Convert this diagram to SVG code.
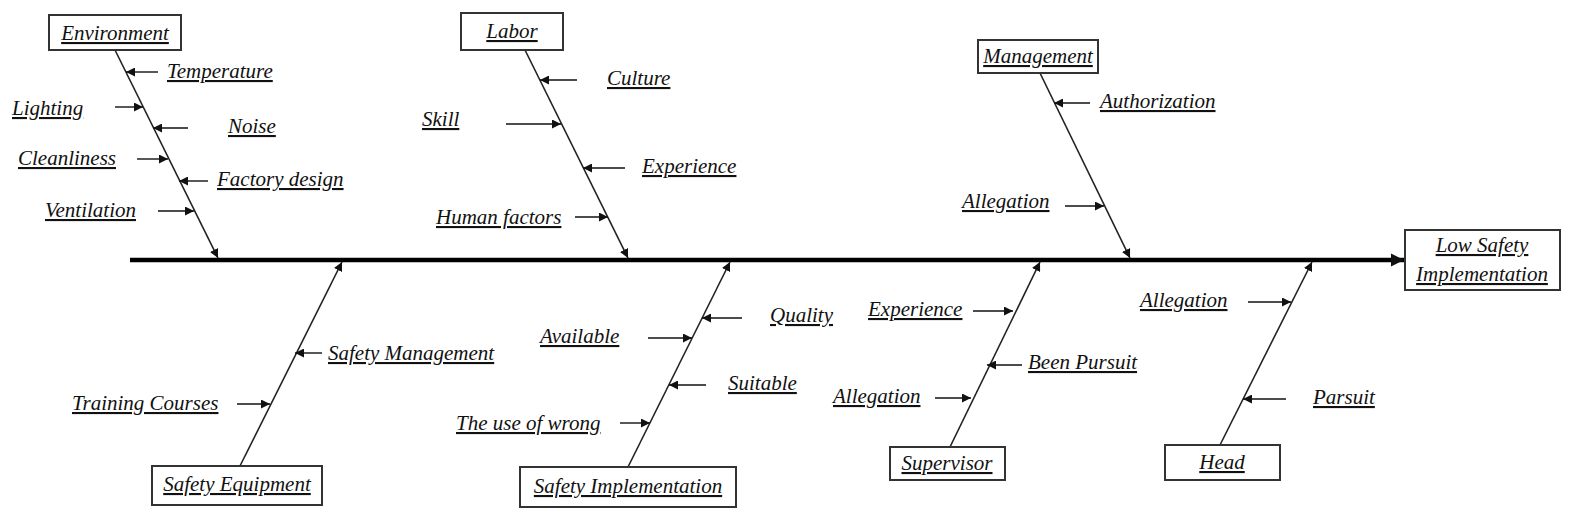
<svg xmlns="http://www.w3.org/2000/svg" width="1584" height="528" viewBox="0 0 1584 528">
<style>
text{font-family:'Liberation Serif','Times New Roman','DejaVu Serif',serif;font-style:italic;font-size:21px;fill:#111;text-decoration:underline}
.box{fill:#fff;stroke:#333;stroke-width:2}
.br{stroke:#222;stroke-width:1.6;fill:none}
.sa{stroke:#111;stroke-width:1.4;fill:none;marker-end:url(#a)}
</style>
<defs>
<marker id="a" viewBox="0 0 10 10" refX="10" refY="5" markerWidth="9" markerHeight="9" markerUnits="userSpaceOnUse" orient="auto"><path d="M0,0L10,5L0,10z" fill="#111"/></marker>
<marker id="b" viewBox="0 0 10 10" refX="10" refY="5" markerWidth="3" markerHeight="3" orient="auto"><path d="M0,0L10,5L0,10z" fill="#111"/></marker>
</defs>
<g id="connectors">
<line x1="130" y1="260" x2="1404" y2="260" stroke="#000" stroke-width="4.5" marker-end="url(#b)"/>
<line class="br" x1="115" y1="50" x2="218" y2="258" marker-end="url(#a)"/>
<line class="br" x1="525" y1="50" x2="628" y2="258" marker-end="url(#a)"/>
<line class="br" x1="1040" y1="73" x2="1130" y2="258" marker-end="url(#a)"/>
<line class="br" x1="240" y1="466" x2="342" y2="262" marker-end="url(#a)"/>
<line class="br" x1="628" y1="467" x2="730" y2="262" marker-end="url(#a)"/>
<line class="br" x1="950" y1="447" x2="1040" y2="262" marker-end="url(#a)"/>
<line class="br" x1="1220" y1="445" x2="1312" y2="262" marker-end="url(#a)"/>
<line class="sa" x1="158" y1="72" x2="126" y2="72"/>
<line class="sa" x1="115" y1="107" x2="143" y2="107"/>
<line class="sa" x1="188" y1="128" x2="153" y2="128"/>
<line class="sa" x1="137" y1="159" x2="168" y2="159"/>
<line class="sa" x1="208" y1="181" x2="179" y2="181"/>
<line class="sa" x1="158" y1="211" x2="194" y2="211"/>
<line class="sa" x1="577" y1="80" x2="540" y2="80"/>
<line class="sa" x1="506" y1="124" x2="561" y2="124"/>
<line class="sa" x1="625" y1="168" x2="583" y2="168"/>
<line class="sa" x1="575" y1="217" x2="608" y2="217"/>
<line class="sa" x1="1090" y1="103" x2="1054" y2="103"/>
<line class="sa" x1="1065" y1="206" x2="1104" y2="206"/>
<line class="sa" x1="322" y1="353" x2="295" y2="353"/>
<line class="sa" x1="237" y1="404" x2="270" y2="404"/>
<line class="sa" x1="742" y1="318" x2="702" y2="318"/>
<line class="sa" x1="648" y1="338" x2="692" y2="338"/>
<line class="sa" x1="706" y1="385" x2="669" y2="385"/>
<line class="sa" x1="620" y1="423" x2="650" y2="423"/>
<line class="sa" x1="973" y1="311" x2="1013" y2="311"/>
<line class="sa" x1="1022" y1="365" x2="987" y2="365"/>
<line class="sa" x1="935" y1="398" x2="971" y2="398"/>
<line class="sa" x1="1248" y1="302" x2="1291" y2="302"/>
<line class="sa" x1="1286" y1="399" x2="1243" y2="399"/>
</g>
<g id="environment"><rect class="box" x="49" y="15" width="132" height="35" stroke-width="3"/><text x="115" y="40" text-anchor="middle">Environment</text></g>
<g id="labor"><rect class="box" x="461" y="13" width="102" height="37"/><text x="512" y="38" text-anchor="middle">Labor</text></g>
<g id="management"><rect class="box" x="978" y="40" width="120" height="33"/><text x="1038" y="63" text-anchor="middle">Management</text></g>
<g id="effect"><rect class="box" x="1405" y="230" width="155" height="60"/><text x="1482" y="252" text-anchor="middle">Low Safety</text><text x="1482" y="281" text-anchor="middle">Implementation</text></g>
<g id="safety-equipment"><rect class="box" x="152" y="466" width="170" height="39"/><text x="237" y="491" text-anchor="middle">Safety Equipment</text></g>
<g id="safety-implementation"><rect class="box" x="520" y="467" width="216" height="40"/><text x="628" y="493" text-anchor="middle">Safety Implementation</text></g>
<g id="supervisor"><rect class="box" x="890" y="447" width="115" height="33"/><text x="947" y="470" text-anchor="middle">Supervisor</text></g>
<g id="head"><rect class="box" x="1165" y="445" width="115" height="35"/><text x="1222" y="469" text-anchor="middle">Head</text></g>
<g id="labels">
<text x="167" y="78">Temperature</text>
<text x="12" y="115">Lighting</text>
<text x="228" y="133">Noise</text>
<text x="18" y="165">Cleanliness</text>
<text x="217" y="186">Factory design</text>
<text x="45" y="217">Ventilation</text>
<text x="607" y="85">Culture</text>
<text x="422" y="126">Skill</text>
<text x="642" y="173">Experience</text>
<text x="436" y="224">Human factors</text>
<text x="1100" y="108">Authorization</text>
<text x="962" y="208">Allegation</text>
<text x="328" y="360">Safety Management</text>
<text x="72" y="410">Training Courses</text>
<text x="770" y="322">Quality</text>
<text x="540" y="343">Available</text>
<text x="728" y="390">Suitable</text>
<text x="456" y="430">The use of wrong</text>
<text x="868" y="316">Experience</text>
<text x="1028" y="369">Been Pursuit</text>
<text x="833" y="403">Allegation</text>
<text x="1140" y="307">Allegation</text>
<text x="1313" y="404">Parsuit</text>
</g>
</svg>
